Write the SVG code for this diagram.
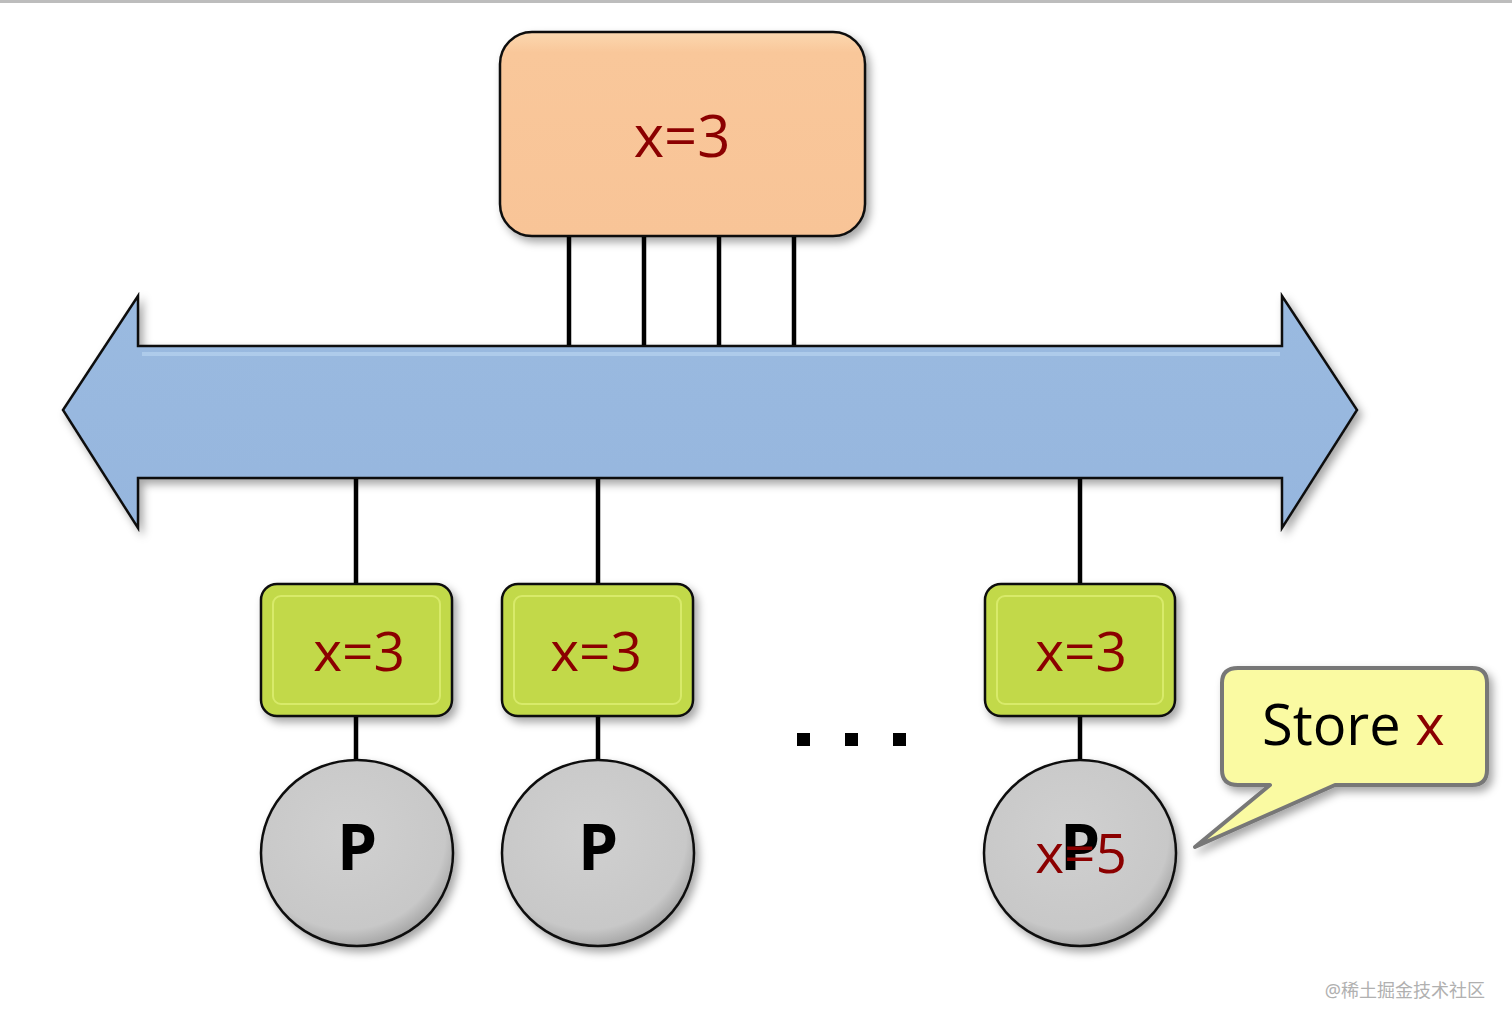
<svg xmlns="http://www.w3.org/2000/svg" width="1512" height="1028" viewBox="0 0 1512 1028">
<defs>
<filter id="sh" x="-10%" y="-10%" width="130%" height="130%">
<feDropShadow dx="4" dy="5" stdDeviation="4" flood-color="#000" flood-opacity="0.35"/>
</filter>
<linearGradient id="og" x1="0" y1="0" x2="0" y2="1">
<stop offset="0" stop-color="#FCD8B0"/>
<stop offset="0.1" stop-color="#F9C79A"/>
<stop offset="1" stop-color="#F8C497"/>
</linearGradient>
<linearGradient id="bg" x1="0" y1="0" x2="0" y2="1">
<stop offset="0" stop-color="#9ABAE0"/>
<stop offset="1" stop-color="#96B6DE"/>
</linearGradient>
<radialGradient id="cg" cx="0.45" cy="0.4" r="0.6">
<stop offset="0" stop-color="#D0D0D0"/>
<stop offset="0.85" stop-color="#C8C8C8"/>
<stop offset="1" stop-color="#A8A8A8"/>
</radialGradient>
<style>
.lnk{stroke:#000;stroke-width:4.5;fill:none}
.val{font-family:"Open Sans","DejaVu Sans",sans-serif;fill:#8B0000;text-anchor:middle}
.grn{fill:#C2D94A;stroke:#111;stroke-width:2.5}
.grnIn{fill:none;stroke:#D8EA6A;stroke-width:2}
.cir{fill:url(#cg);stroke:#111;stroke-width:2.5}
.p{font-family:"Open Sans","DejaVu Sans",sans-serif;font-weight:bold;font-size:64px;fill:#000;text-anchor:middle}
</style>
</defs>
<rect x="0" y="0" width="1512" height="1028" fill="#fff"/>
<rect x="0" y="0" width="1512" height="3" fill="#BDBDBD"/>

<g id="connectors">
<line class="lnk" x1="569" y1="236" x2="569" y2="348"/>
<line class="lnk" x1="644" y1="236" x2="644" y2="348"/>
<line class="lnk" x1="719" y1="236" x2="719" y2="348"/>
<line class="lnk" x1="794" y1="236" x2="794" y2="348"/>
<line class="lnk" x1="356" y1="476" x2="356" y2="584"/>
<line class="lnk" x1="598" y1="476" x2="598" y2="584"/>
<line class="lnk" x1="1080" y1="476" x2="1080" y2="584"/>
<line class="lnk" x1="356" y1="716" x2="356" y2="762"/>
<line class="lnk" x1="598" y1="716" x2="598" y2="762"/>
<line class="lnk" x1="1080" y1="716" x2="1080" y2="762"/>
</g>

<g id="bus">
<path d="M63,410 L138,296 L138,346 L1282,346 L1282,296 L1357,410 L1282,528 L1282,478 L138,478 L138,528 Z" fill="url(#bg)" stroke="#111" stroke-width="2.5" stroke-linejoin="miter" filter="url(#sh)"/>
<path d="M142,354 L1280,354" stroke="#B8D4F0" stroke-width="4" opacity="0.7"/>
</g>

<g id="memory">
<rect x="500" y="32" width="365" height="204" rx="32" fill="url(#og)" stroke="#111" stroke-width="2.5" filter="url(#sh)"/>
<text class="val" x="682" y="157" font-size="58">x=3</text>
</g>

<g id="cache1">
<rect class="grn" x="261" y="584" width="191" height="132" rx="16" filter="url(#sh)"/>
<rect class="grnIn" x="273" y="596" width="167" height="108" rx="8"/>
<text class="val" x="359" y="671" font-size="55">x=3</text>
</g>
<g id="cache2">
<rect class="grn" x="502" y="584" width="191" height="132" rx="16" filter="url(#sh)"/>
<rect class="grnIn" x="514" y="596" width="167" height="108" rx="8"/>
<text class="val" x="596" y="671" font-size="55">x=3</text>
</g>
<g id="cache3">
<rect class="grn" x="985" y="584" width="190" height="132" rx="16" filter="url(#sh)"/>
<rect class="grnIn" x="997" y="596" width="166" height="108" rx="8"/>
<text class="val" x="1081" y="671" font-size="55">x=3</text>
</g>

<g id="proc1">
<ellipse class="cir" cx="357" cy="853" rx="96" ry="93" filter="url(#sh)"/>
<text class="p" x="357" y="870">P</text>
</g>
<g id="proc2">
<ellipse class="cir" cx="598" cy="853" rx="96" ry="93" filter="url(#sh)"/>
<text class="p" x="598" y="870">P</text>
</g>
<g id="proc3">
<ellipse class="cir" cx="1080" cy="853" rx="96" ry="93" filter="url(#sh)"/>
<text class="p" x="1080" y="870">P</text>
<text class="val" x="1081" y="873" font-size="55">x=5</text>
</g>

<g id="dots" fill="#000">
<rect x="797" y="733" width="13" height="13"/>
<rect x="845" y="733" width="13" height="13"/>
<rect x="893" y="733" width="13" height="13"/>
</g>

<g id="callout">
<path d="M1238,668 L1472,668 Q1487,668 1487,683 L1487,770 Q1487,785 1472,785 L1335,785 L1195,847 L1270,785 L1238,785 Q1222,785 1222,770 L1222,683 Q1222,668 1238,668 Z" fill="#FAFAA2" stroke="#777" stroke-width="4" stroke-linejoin="round" filter="url(#sh)"/>
<text x="1262" y="745" font-family="'Open Sans','DejaVu Sans',sans-serif" font-size="56" fill="#000">Store <tspan fill="#8B0000">x</tspan></text>
</g>

<text x="1485" y="997" text-anchor="end" font-family="'Noto Sans','Noto Sans CJK SC',sans-serif" font-size="18" fill="#B0B0B0">@稀土掘金技术社区</text>
</svg>
